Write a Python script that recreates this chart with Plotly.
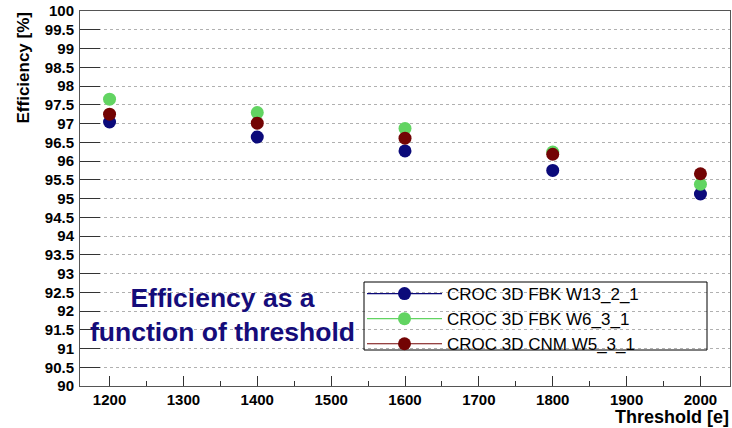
import plotly.graph_objects as go

thresholds = [1200, 1400, 1600, 1800, 2000]
eff_fbk_w13 = [97.04, 96.64, 96.27, 95.75, 95.12]
eff_fbk_w6 = [97.65, 97.29, 96.87, 96.24, 95.38]
eff_cnm_w5 = [97.25, 97.01, 96.61, 96.18, 95.66]

series = [
    ("CROC 3D FBK W13_2_1", eff_fbk_w13, "#0b0a7a"),
    ("CROC 3D FBK W6_3_1", eff_fbk_w6, "#62d462"),
    ("CROC 3D CNM W5_3_1", eff_cnm_w5, "#730404"),
]

y_ticks = [90 + 0.5 * i for i in range(21)]
y_tick_text = [("%g" % v) for v in y_ticks]
x_ticks = [1200, 1300, 1400, 1500, 1600, 1700, 1800, 1900, 2000]

fig = go.Figure()
for name, vals, col in series:
    fig.add_trace(go.Scatter(
        x=thresholds, y=vals, name=name, mode="markers",
        marker=dict(color=col, size=13), showlegend=False,
    ))
for name, vals, col in series:
    fig.add_trace(go.Scatter(
        x=[None], y=[None], name=name, mode="lines+markers",
        line=dict(color=col, width=1.2),
        marker=dict(color=col, size=13),
    ))

W, H = 732, 428
ml, mr, mt, mb = 80, 2, 11, 42
pw, ph = W - ml - mr, H - mt - mb

def px_x(px):
    return (px - ml) / pw

def px_y(py):
    return (H - mb - py) / ph

tickfont = dict(family="Liberation Sans", size=15, color="black", weight="bold")

fig.update_layout(
    width=W, height=H,
    margin=dict(l=ml, r=mr, t=mt, b=mb),
    paper_bgcolor="white", plot_bgcolor="white",
    font=dict(family="Liberation Sans", color="black"),
    showlegend=True,
    legend=dict(
        x=px_x(362), y=px_y(276), xanchor="left", yanchor="top",
        bgcolor="rgba(0,0,0,0)", borderwidth=0,
        font=dict(family="Liberation Sans", size=17, color="black"),
        tracegroupgap=0, itemwidth=75,
    ),
    xaxis=dict(
        range=[1160, 2040], tickvals=x_ticks, ticks="inside", ticklen=10,
        tickcolor="#333", tickwidth=1,
        minor=dict(dtick=50, ticks="inside", ticklen=5, tickcolor="#333", showgrid=False),
        showgrid=False, zeroline=False, showline=True, linecolor="#555",
        linewidth=1, mirror=True, tickfont=tickfont,
    ),
    yaxis=dict(
        range=[90, 100], tickvals=y_ticks, ticktext=y_tick_text,
        ticks="inside", ticklen=20, tickcolor="#333", tickwidth=1,
        showgrid=True, gridcolor="#b0b0b0", griddash="dot", gridwidth=1,
        zeroline=False, showline=True, linecolor="#555", linewidth=1,
        mirror=True, tickfont=tickfont, ticklabelstandoff=2,
    ),
    shapes=[dict(
        type="rect", xref="paper", yref="paper",
        x0=px_x(364), x1=px_x(707), y0=px_y(350), y1=px_y(282),
        line=dict(color="black", width=1), fillcolor="rgba(0,0,0,0)",
    )],
    annotations=[
        dict(text="Efficiency [%]", textangle=-90, xref="paper", yref="paper",
             x=px_x(23), y=1.0, xanchor="center", yanchor="top", showarrow=False,
             font=dict(family="Liberation Sans", size=17, color="black", weight="bold")),
        dict(text="Threshold [e]", xref="paper", yref="paper",
             x=px_x(731), y=px_y(417), xanchor="right", yanchor="middle", showarrow=False,
             font=dict(family="Liberation Sans", size=18, color="black", weight="bold")),
        dict(text="Efficiency as a<br>function of threshold", xref="paper", yref="paper",
             x=px_x(222), y=px_y(315), xanchor="center", yanchor="middle", showarrow=False,
             align="center",
             font=dict(family="Liberation Sans", size=26.5, color="#150c7a", weight="bold")),
    ],
)

fig.write_html("out.html")
